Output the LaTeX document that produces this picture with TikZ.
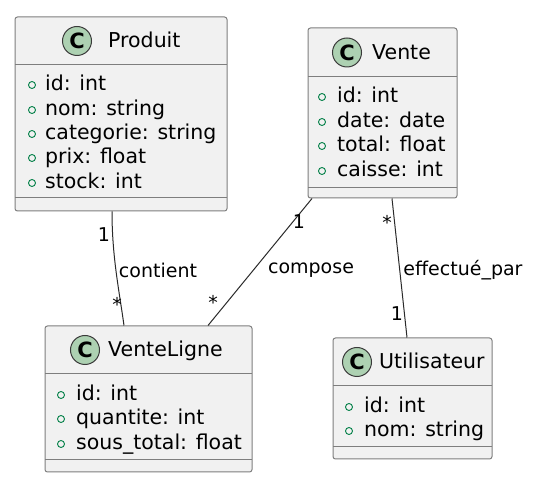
\documentclass[tikz,border=0pt]{standalone}
\usepackage{fontspec}
\setmainfont{DejaVu Sans}
\definecolor{boxfill}{HTML}{F1F1F1}
\definecolor{boxline}{HTML}{7E7E7E}
\definecolor{circfill}{HTML}{ADD1B2}
\definecolor{circline}{HTML}{3A3A3A}
\definecolor{attrgreen}{HTML}{038048}
\definecolor{linkc}{HTML}{2A2A2A}
\tikzset{
  classbox/.style={draw=boxline, fill=boxfill, line width=1pt, rounded corners=2.5pt, inner sep=0pt},
  sepline/.style={draw=boxline, line width=1pt},
  cicon/.style={circle, draw=circline, fill=circfill, line width=1pt, minimum size=29pt, inner sep=0pt, font=\fontsize{21}{21}\selectfont\bfseries},
  ctitle/.style={anchor=base west, inner sep=0pt, font=\fontsize{20.5}{24}\selectfont},
  attr/.style={anchor=base west, inner sep=0pt, font=\fontsize{20.5}{24}\selectfont},
  marker/.style={circle, draw=attrgreen, line width=0.9pt, minimum size=7pt, inner sep=0pt},
  link/.style={draw=linkc, line width=1pt},
  lbl/.style={inner sep=0pt, font=\fontsize{19}{22}\selectfont},
}
\begin{document}
\begin{tikzpicture}[x=1pt,y=-1pt]
\useasboundingbox[fill=white] (0,0) rectangle (539,489);
% ---------- Produit ----------
\node[classbox, minimum width=212pt, minimum height=194pt] (produit) at (121,114) {};
\draw[sepline] (15,65) -- (227,65);
\draw[sepline] (15,198) -- (227,198);
\node[cicon] (produitC) at (77,41) {C};
\node[ctitle] (produitT) at (108,48) {Produit};
\node[marker] (pm1) at (32,85) {};
\node[marker] (pm2) at (32,110) {};
\node[marker] (pm3) at (32,134) {};
\node[marker] (pm4) at (32,158) {};
\node[marker] (pm5) at (32,183) {};
\node[attr] (pa1) at (45,90.6) {id: int};
\node[attr] (pa2) at (45,115.6) {nom: string};
\node[attr] (pa3) at (45,139.6) {categorie: string};
\node[attr] (pa4) at (45,163.6) {prix: float};
\node[attr] (pa5) at (45,188.6) {stock: int};
% ---------- Vente ----------
\node[classbox, minimum width=149pt, minimum height=170pt] (vente) at (382.5,113) {};
\draw[sepline] (308,77) -- (457,77);
\draw[sepline] (308,188) -- (457,188);
\node[cicon] (venteC) at (347,52.5) {C};
\node[ctitle] (venteT) at (372,60) {Vente};
\node[marker] (vm1) at (322,97) {};
\node[marker] (vm2) at (322,122) {};
\node[marker] (vm3) at (322,146) {};
\node[marker] (vm4) at (322,171) {};
\node[attr] (va1) at (337,102.6) {id: int};
\node[attr] (va2) at (337,127.6) {date: date};
\node[attr] (va3) at (337,151.6) {total: float};
\node[attr] (va4) at (337,176.6) {caisse: int};
% ---------- VenteLigne ----------
\node[classbox, minimum width=207pt, minimum height=146pt] (ligne) at (148.5,399) {};
\draw[sepline] (45,374) -- (252,374);
\draw[sepline] (45,460) -- (252,460);
\node[cicon] (ligneC) at (85,350) {C};
\node[ctitle] (ligneT) at (108,357) {VenteLigne};
\node[marker] (lm1) at (61,395) {};
\node[marker] (lm2) at (61,419) {};
\node[marker] (lm3) at (61,444) {};
\node[attr] (la1) at (76,400.6) {id: int};
\node[attr] (la2) at (76,424.6) {quantite: int};
\node[attr] (la3) at (76,449.6) {sous\_total: float};
% ---------- Utilisateur ----------
\node[classbox, minimum width=159pt, minimum height=121pt] (util) at (412.5,398.5) {};
\draw[sepline] (333,386) -- (492,386);
\draw[sepline] (333,447) -- (492,447);
\node[cicon] (utilC) at (357,362) {C};
\node[ctitle] (utilT) at (379,369) {Utilisateur};
\node[marker] (um1) at (349,407) {};
\node[marker] (um2) at (349,431) {};
\node[attr] (ua1) at (364,412.6) {id: int};
\node[attr] (ua2) at (364,436.6) {nom: string};
% ---------- links ----------
\draw[link] ([xshift=-9pt]produit.south) .. controls +(0,45) and +(-5,-36) .. ([xshift=-24.5pt]ligne.north);
\draw[link] ([xshift=-70.5pt]vente.south) -- ([xshift=59.5pt]ligne.north);
\draw[link] ([xshift=9.5pt]vente.south) -- ([xshift=-5.5pt]util.north);
% labels
\node[lbl] (l1a) at (104,235) {1};
\node[lbl] (l1b) at (117,304) {*};
\node[lbl] (l1c) at (158,270) {contient};
\node[lbl] (l2a) at (299,222) {1};
\node[lbl] (l2b) at (213,302) {*};
\node[lbl] (l2c) at (311,270) {compose};
\node[lbl] (l3a) at (387,222) {*};
\node[lbl] (l3b) at (397,314) {1};
\node[lbl] (l3c) at (463,270) {effectué\_par};
\end{tikzpicture}
\end{document}
